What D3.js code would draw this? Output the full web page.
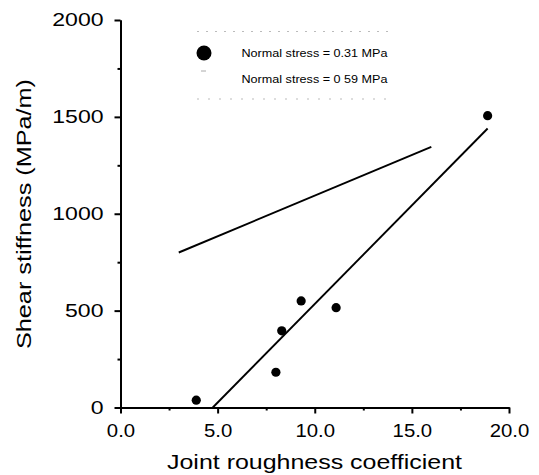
<!DOCTYPE html>
<html>
<head>
<meta charset="utf-8">
<script src="https://cdn.jsdelivr.net/npm/d3@7"></script>
<style>
  html, body { margin: 0; padding: 0; background: #fff; }
  svg { display: block; }
  text { font-family: "Liberation Sans", Arial, sans-serif; fill: #000; }
</style>
</head>
<body>
<svg id="chart" width="539" height="475"></svg>
<script>
// ---- data ----
const jrc = [3.9, 8.0, 8.3, 9.3, 11.1, 18.9];
const stiffness031 = [38, 182, 396, 550, 515, 1506];
const fit031X = [4.75, 18.9];
const fit031Y = [0, 1440];
const fit059X = [3.0, 16.0];
const fit059Y = [800, 1345];
const xTicks = [0, 5, 10, 15, 20];
const xMinor = [2.5, 7.5, 12.5, 17.5];
const yTicks = [0, 500, 1000, 1500, 2000];
const yMinor = [250, 750, 1250, 1750];
const legendLabels = ["Normal stress = 0.31 MPa", "Normal stress = 0 59 MPa"];
const xTitle = "Joint roughness coefficient";
const yTitle = "Shear stiffness (MPa/m)";

const svg = d3.select("#chart");
const x = d3.scaleLinear().domain([0, 20]).range([120.5, 509]);
const y = d3.scaleLinear().domain([0, 2000]).range([407.5, 20]);

// horizontally stretch text (the scanned figure is wide-set)
function stretch(sel, sx) {
  sel.each(function () {
    const w = this.getComputedTextLength();
    d3.select(this).attr("textLength", w * sx).attr("lengthAdjust", "spacingAndGlyphs");
  });
}

// axes
const gx = svg.append("g").attr("transform", `translate(0,${y(0)})`)
  .call(d3.axisBottom(x).tickValues(xTicks).tickFormat(d3.format(".1f")).tickSize(6).tickSizeOuter(0).tickPadding(11));
const gxm = svg.append("g").attr("transform", `translate(0,${y(0)})`)
  .call(d3.axisBottom(x).tickValues(xMinor).tickFormat("").tickSize(3).tickSizeOuter(0));
const gy = svg.append("g").attr("transform", `translate(${x(0)},0)`)
  .call(d3.axisLeft(y).tickValues(yTicks).tickFormat(d3.format("d")).tickSize(6).tickSizeOuter(0).tickPadding(11));
const gym = svg.append("g").attr("transform", `translate(${x(0)},0)`)
  .call(d3.axisLeft(y).tickValues(yMinor).tickFormat("").tickSize(3).tickSizeOuter(0));
[gx, gxm, gy, gym].forEach(g => {
  g.select(".domain").attr("stroke", "#000").attr("stroke-width", 2);
  g.selectAll(".tick line").attr("stroke", "#000").attr("stroke-width", 2);
  g.selectAll(".tick text").style("font-size", "18px").style("font-family", '"Liberation Sans", Arial, sans-serif');
});
stretch(gx.selectAll(".tick text"), 1.13);
stretch(gy.selectAll(".tick text"), 1.28);

// fit lines
const line = d3.line().x(d => x(d[0])).y(d => y(d[1]));
svg.append("path").datum(fit031X.map((v, i) => [v, fit031Y[i]]))
  .attr("d", line).attr("fill", "none").attr("stroke", "#000").attr("stroke-width", 1.9);
svg.append("path").datum(fit059X.map((v, i) => [v, fit059Y[i]]))
  .attr("d", line).attr("fill", "none").attr("stroke", "#000").attr("stroke-width", 1.9);

// points
svg.append("g").selectAll("circle").data(jrc.map((v, i) => [v, stiffness031[i]]))
  .join("circle").attr("cx", d => x(d[0])).attr("cy", d => y(d[1])).attr("r", 4.6).attr("fill", "#000");

// legend
const lg = svg.append("g");
lg.append("line").attr("x1", 197).attr("x2", 395).attr("y1", 31.5).attr("y2", 31.5)
  .attr("stroke", "#bbb").attr("stroke-width", 1).attr("stroke-dasharray", "2,7");
lg.append("line").attr("x1", 197).attr("x2", 390).attr("y1", 99).attr("y2", 99)
  .attr("stroke", "#bbb").attr("stroke-width", 1).attr("stroke-dasharray", "2,9");
lg.append("circle").attr("cx", 204).attr("cy", 53).attr("r", 7.5).attr("fill", "#000");
lg.append("line").attr("x1", 201).attr("x2", 206).attr("y1", 71).attr("y2", 71).attr("stroke", "#aaa").attr("stroke-width", 1);
const lt = lg.selectAll("text.leg").data(legendLabels).join("text").attr("class", "leg")
  .attr("x", 241.5).attr("y", (d, i) => 57 + i * 26).style("font-size", "10.5px").text(d => d);
lt.each(function () { d3.select(this).attr("textLength", 146).attr("lengthAdjust", "spacingAndGlyphs"); });

// titles
svg.append("text").attr("x", 314.5).attr("y", 469).attr("text-anchor", "middle").style("font-size", "20px")
  .attr("textLength", 295).attr("lengthAdjust", "spacingAndGlyphs").text(xTitle);
svg.append("text").attr("transform", "translate(31,214) rotate(-90)").attr("text-anchor", "middle").style("font-size", "21px")
  .attr("textLength", 270).attr("lengthAdjust", "spacingAndGlyphs").text(yTitle);
</script>
</body>
</html>
